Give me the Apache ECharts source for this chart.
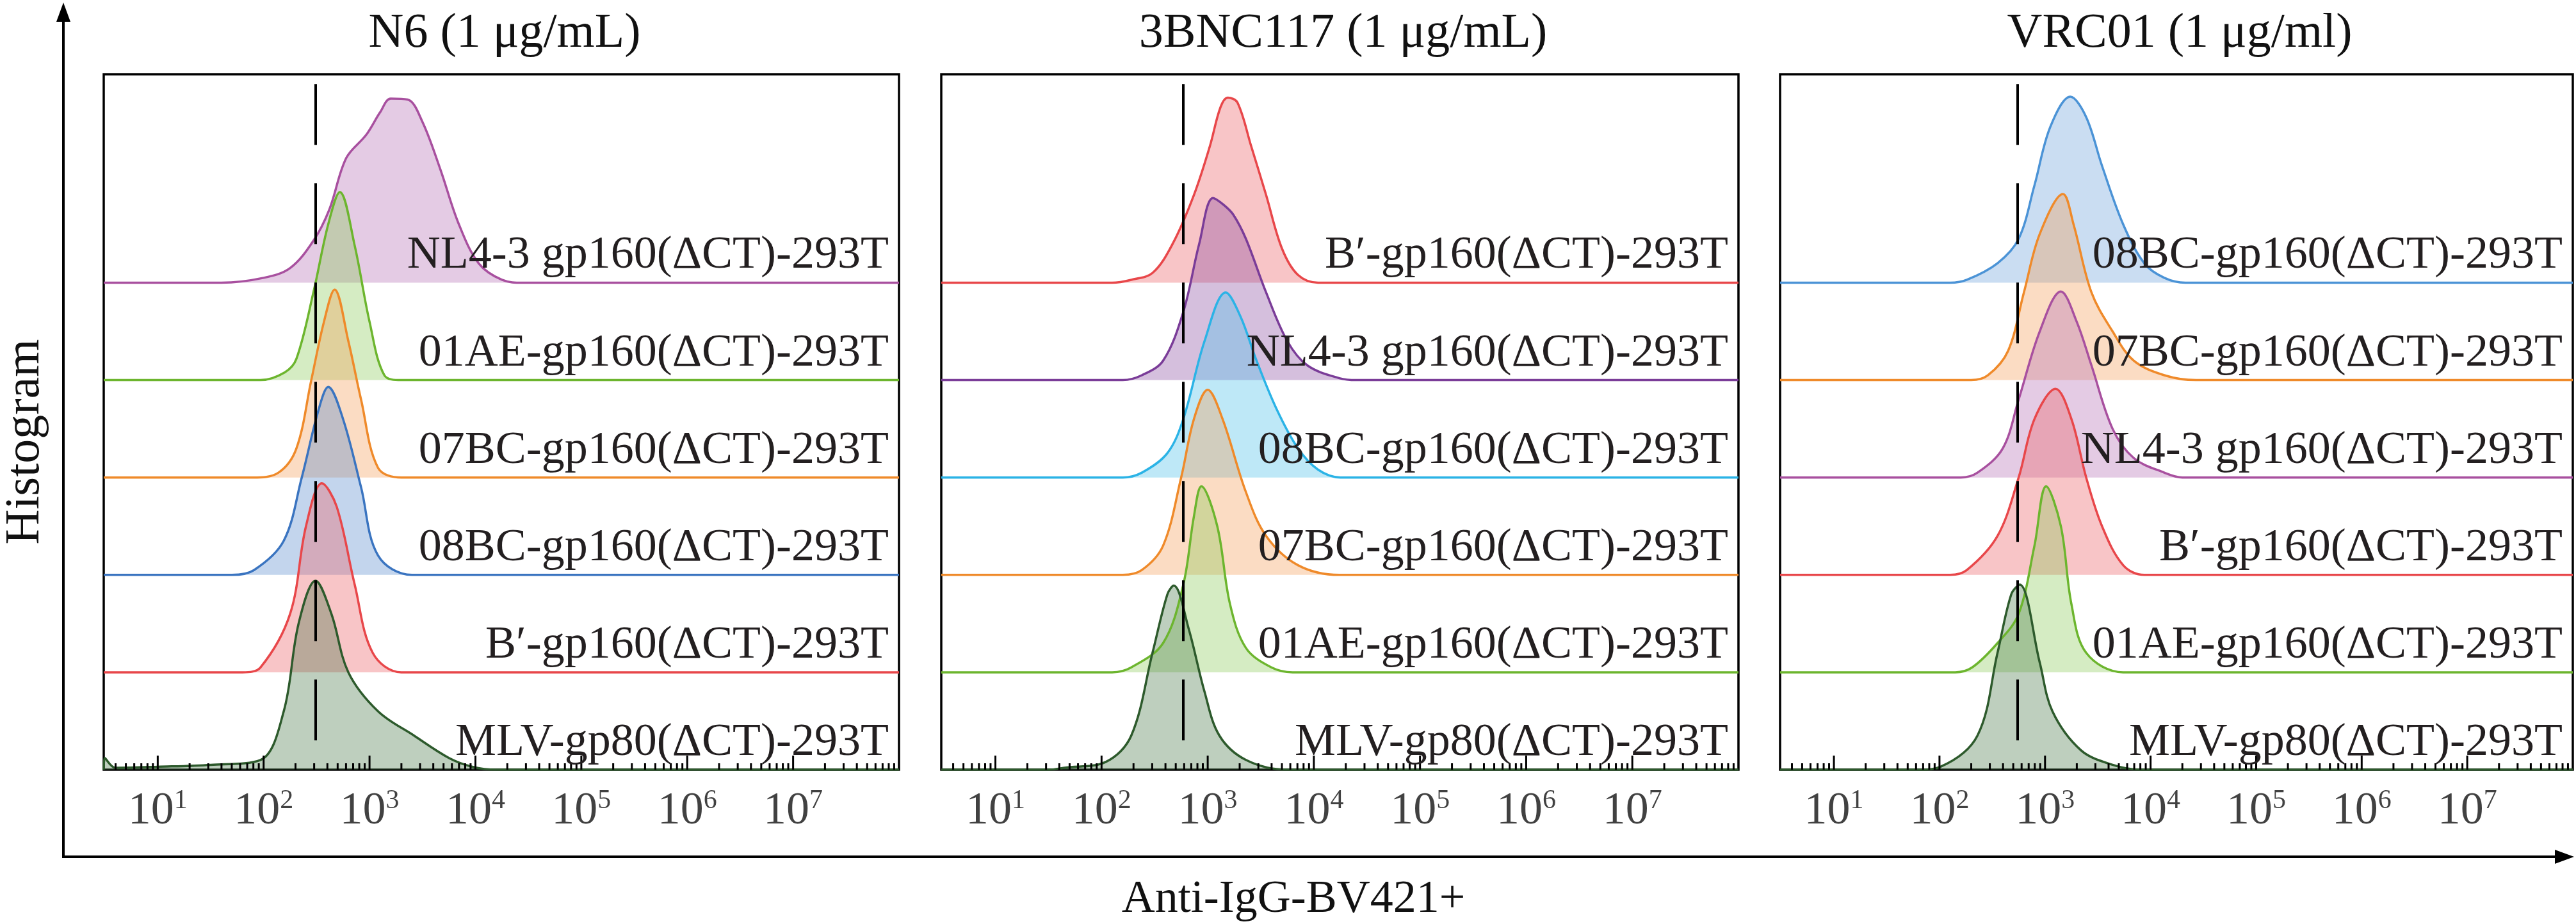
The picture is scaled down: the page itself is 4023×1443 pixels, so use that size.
<!DOCTYPE html>
<html><head><meta charset="utf-8">
<script src="https://cdn.jsdelivr.net/npm/echarts@6/dist/echarts.min.js"></script>
<style>html,body{margin:0;padding:0;background:#fff}#c{width:4023px;height:1443px}</style>
</head><body><div id="c"></div>
<script>
// x values are log10(intensity); heights in units of track spacing
const panelTitles = ['N6 (1 μg/mL)', '3BNC117 (1 μg/mL)', 'VRC01 (1 μg/ml)'];
const tickLabels = ['1','2','3','4','5','6','7'];
const gateLog = [2.49, 2.77, 2.74];
const minorMult = [2,3,4,5,6,7,8,9];
const decades = [0,1,2,3,4,5,6,7];

// panel 1 (top to bottom)
const p1Names = ['NL4-3 gp160(ΔCT)-293T','01AE-gp160(ΔCT)-293T','07BC-gp160(ΔCT)-293T','08BC-gp160(ΔCT)-293T','B′-gp160(ΔCT)-293T','MLV-gp80(ΔCT)-293T'];
const p1NL43 = [[1.6,0],[2.0,0.05],[2.25,0.15],[2.47,0.43],[2.62,0.75],[2.78,1.28],[2.97,1.52],[3.1,1.75],[3.2,1.89],[3.36,1.88],[3.5,1.65],[3.67,1.16],[3.84,0.61],[4.03,0.2],[4.25,0.03],[4.45,0]];
const p1AE = [[1.97,0],[2.2,0.08],[2.31,0.22],[2.47,0.9],[2.61,1.6],[2.72,1.93],[2.86,1.38],[3.0,0.6],[3.14,0.05],[3.3,0]];
const p1BC07 = [[1.9,0],[2.14,0.05],[2.31,0.3],[2.45,1.0],[2.57,1.6],[2.67,1.93],[2.8,1.4],[2.92,0.8],[3.08,0.1],[3.3,0]];
const p1BC08 = [[1.7,0],[1.91,0.05],[2.19,0.35],[2.36,1.0],[2.52,1.7],[2.61,1.93],[2.75,1.6],[2.92,0.9],[3.08,0.2],[3.4,0]];
const p1B = [[1.8,0],[1.97,0.05],[2.25,0.6],[2.4,1.5],[2.55,1.94],[2.69,1.7],[2.86,0.9],[3.03,0.2],[3.3,0]];
const p1MLV = [[0.5,0.12],[0.6,0.02],[1.0,0.03],[1.5,0.05],[1.97,0.1],[2.19,0.6],[2.33,1.5],[2.49,1.94],[2.64,1.6],[2.8,1.0],[3.08,0.6],[3.42,0.35],[3.75,0.12],[3.97,0.03],[4.2,0]];

// panel 2
const p2Names = ['B′-gp160(ΔCT)-293T','NL4-3 gp160(ΔCT)-293T','08BC-gp160(ΔCT)-293T','07BC-gp160(ΔCT)-293T','01AE-gp160(ΔCT)-293T','MLV-gp80(ΔCT)-293T'];
const p2B = [[2.1,0],[2.28,0.03],[2.48,0.1],[2.67,0.4],[2.87,0.9],[3.02,1.4],[3.12,1.8],[3.19,1.9],[3.28,1.85],[3.41,1.4],[3.55,0.9],[3.7,0.35],[3.85,0.08],[4.04,0]];
const p2NL43 = [[2.2,0],[2.38,0.05],[2.58,0.2],[2.77,0.7],[2.92,1.4],[3.05,1.87],[3.15,1.8],[3.24,1.7],[3.36,1.45],[3.55,0.9],[3.75,0.4],[3.94,0.15],[4.24,0.02],[4.4,0]];
const p2BC08 = [[2.2,0],[2.38,0.05],[2.62,0.25],[2.77,0.6],[2.97,1.4],[3.17,1.9],[3.31,1.65],[3.46,1.2],[3.65,0.7],[3.85,0.3],[4.04,0.08],[4.25,0]];
const p2BC07 = [[2.2,0],[2.38,0.05],[2.58,0.3],[2.75,1.0],[2.87,1.6],[3.0,1.9],[3.14,1.6],[3.36,0.85],[3.55,0.4],[3.85,0.1],[4.24,0]];
const p2AE = [[2.1,0],[2.28,0.05],[2.58,0.3],[2.77,0.9],[2.87,1.6],[2.94,1.91],[3.09,1.5],[3.21,0.7],[3.36,0.25],[3.6,0.05],[3.8,0]];
const p2MLV = [[1.5,0],[1.65,0.02],[2.04,0.08],[2.28,0.35],[2.48,1.2],[2.62,1.8],[2.68,1.89],[2.82,1.45],[2.97,0.8],[3.11,0.35],[3.36,0.1],[3.75,0]];

// panel 3
const p3Names = ['08BC-gp160(ΔCT)-293T','07BC-gp160(ΔCT)-293T','NL4-3 gp160(ΔCT)-293T','B′-gp160(ΔCT)-293T','01AE-gp160(ΔCT)-293T','MLV-gp80(ΔCT)-293T'];
const p3BC08 = [[2.1,0],[2.26,0.03],[2.55,0.2],[2.75,0.45],[2.9,1.0],[3.05,1.6],[3.24,1.91],[3.39,1.7],[3.54,1.2],[3.74,0.6],[3.94,0.2],[4.13,0.05],[4.33,0]];
const p3BC07 = [[2.3,0],[2.46,0.05],[2.65,0.3],[2.8,0.9],[2.95,1.5],[3.17,1.91],[3.27,1.6],[3.44,0.9],[3.64,0.5],[3.84,0.2],[4.13,0.05],[4.43,0]];
const p3NL43 = [[2.2,0],[2.36,0.05],[2.6,0.3],[2.75,0.8],[2.95,1.5],[3.15,1.91],[3.3,1.6],[3.44,1.15],[3.64,0.5],[3.84,0.2],[4.13,0.05],[4.3,0]];
const p3B = [[2.1,0],[2.26,0.05],[2.55,0.4],[2.75,1.0],[2.9,1.6],[3.1,1.91],[3.25,1.6],[3.39,1.0],[3.54,0.5],[3.74,0.1],[3.94,0]];
const p3AE = [[2.15,0],[2.31,0.05],[2.55,0.3],[2.75,0.6],[2.9,1.3],[3.01,1.91],[3.15,1.5],[3.25,0.7],[3.39,0.2],[3.74,0]];
const p3MLV = [[1.8,0],[2.01,0.03],[2.36,0.35],[2.55,1.2],[2.68,1.8],[2.76,1.9],[2.95,1.1],[3.07,0.6],[3.34,0.2],[3.64,0.05],[3.9,0]];

const colors = {
  purple: ['#a8509f', 'rgba(185,120,185,0.55)'],
  purple2: ['#7a3c98', 'rgba(135,75,160,0.5)'],
  green: ['#6cb52e', 'rgba(135,200,85,0.5)'],
  orange: ['#ef8a2a', 'rgba(245,155,85,0.5)'],
  blue: ['#3a74c0', 'rgba(85,135,205,0.5)'],
  sky: ['#2bb3e6', 'rgba(85,195,235,0.55)'],
  lblue: ['#4b93d6', 'rgba(105,160,218,0.5)'],
  red: ['#e8474a', 'rgba(238,105,110,0.55)'],
  dgreen: ['#2d5a2c', 'rgba(70,120,70,0.5)']
};
const panels = [
  {names: p1Names, curves: [p1NL43,p1AE,p1BC07,p1BC08,p1B,p1MLV], cols:['purple','green','orange','blue','red','dgreen']},
  {names: p2Names, curves: [p2B,p2NL43,p2BC08,p2BC07,p2AE,p2MLV], cols:['red','purple2','sky','orange','green','dgreen']},
  {names: p3Names, curves: [p3BC08,p3BC07,p3NL43,p3B,p3AE,p3MLV], cols:['lblue','orange','purple','red','green','dgreen']}
];
const XMIN = 0.49, XMAX = 8.0, YMAX = 7.14;
const gridPos = [[162,1242],[1470,1245],[2780,1238]];
const FONT = '"Liberation Serif", "Times New Roman", serif';

const grid = [], xAxis = [], yAxis = [], series = [], titles = [];
panels.forEach((p, pi) => {
  grid.push({left: gridPos[pi][0], width: gridPos[pi][1], top: 116, height: 1086, show: true, borderColor: '#000', borderWidth: 3.5, backgroundColor: 'transparent'});
  xAxis.push({type: 'value', gridIndex: pi, min: XMIN, max: XMAX, interval: 1,
    axisLine: {show: false}, axisTick: {show: false}, splitLine: {show: false},
    axisLabel: {show: false}});
  yAxis.push({type: 'value', gridIndex: pi, min: 0, max: YMAX, show: false, splitLine: {show: false}});
  titles.push({text: panelTitles[pi], left: gridPos[pi][0] + gridPos[pi][1] / 2, top: 10, textAlign: 'center',
    textStyle: {fontFamily: FONT, fontSize: 76, fontWeight: 'normal', color: '#111'}});
  p.curves.forEach((c, ci) => {
    const base = 5 - ci;
    const col = colors[p.cols[ci]];
    const data = [[XMIN, base]].concat(c.map(d => [d[0], base + d[1]])).concat([[XMAX, base]]);
    series.push({type: 'line', xAxisIndex: pi, yAxisIndex: pi, data: data, smooth: 0.35, symbol: 'none',
      lineStyle: {color: col[0], width: 3.5}, areaStyle: {color: col[1], origin: base}, silent: true, z: 2});
  });
  const ticks = [];
  decades.forEach(d => { if (d >= 1) ticks.push([d, 1]); minorMult.forEach(m => ticks.push([d + Math.log10(m), 0])); });
  series.push({type: 'custom', xAxisIndex: pi, yAxisIndex: pi, z: 5, silent: true,
    data: ticks.filter(t => t[0] > XMIN && t[0] < XMAX),
    renderItem: (params, api) => {
      const pt = api.coord([api.value(0), 0]);
      const len = api.value(1) ? 22 : 10;
      return {type: 'line', shape: {x1: pt[0], y1: pt[1], x2: pt[0], y2: pt[1] - len}, style: {stroke: '#000', lineWidth: 3}};
    }});
  series.push({type: 'scatter', xAxisIndex: pi, yAxisIndex: pi, symbolSize: 0, silent: true, z: 6,
    data: tickLabels.map(t => [Number(t), 0]),
    label: {show: true, position: 'bottom', distance: 28, fontFamily: FONT, color: '#111',
      formatter: (prm) => '{b|10}{s|' + tickLabels[prm.dataIndex] + '}',
      rich: {b: {fontFamily: FONT, fontSize: 72, color: '#111'}, s: {fontFamily: FONT, fontSize: 42, color: '#111', verticalAlign: 'top', padding: [0,0,32,0]}}}});
  series.push({type: 'line', xAxisIndex: pi, yAxisIndex: pi, data: [], silent: true, z: 10,
    markLine: {symbol: 'none', silent: true, label: {show: false},
      lineStyle: {color: '#000', width: 4, type: [95, 60]},
      data: [[{coord: [gateLog[pi], YMAX - 0.1]}, {coord: [gateLog[pi], 0]}]]},
    markPoint: {symbol: 'circle', symbolSize: 0, silent: true,
      data: p.names.map((n, ci) => ({coord: [XMAX, 5 - ci], value: n})),
      label: {show: true, position: 'left', distance: 16, offset: [0, -42], formatter: '{c}',
        fontFamily: FONT, fontSize: 72, color: '#231f20'}}});
});

const chart = echarts.init(document.getElementById('c'));
chart.setOption({
  backgroundColor: '#fff', animation: false,
  title: titles, grid: grid, xAxis: xAxis, yAxis: yAxis, series: series,
  graphic: [
    {type: 'line', shape: {x1: 99, y1: 1338, x2: 99, y2: 20}, style: {stroke: '#000', lineWidth: 4}},
    {type: 'polygon', shape: {points: [[99, 4], [88, 34], [110, 34]]}, style: {fill: '#000'}},
    {type: 'line', shape: {x1: 97, y1: 1338, x2: 4000, y2: 1338}, style: {stroke: '#000', lineWidth: 4}},
    {type: 'polygon', shape: {points: [[4020, 1338], [3990, 1327], [3990, 1349]]}, style: {fill: '#000'}},
    {type: 'text', x: 40, y: 690, rotation: Math.PI / 2, style: {text: 'Histogram', font: '76px ' + FONT, fill: '#111', align: 'center', verticalAlign: 'middle'}},
    {type: 'text', x: 2020, y: 1405, style: {text: 'Anti-IgG-BV421+', font: '72px ' + FONT, fill: '#111', align: 'center', verticalAlign: 'middle'}}
  ]
});
</script></body></html>
